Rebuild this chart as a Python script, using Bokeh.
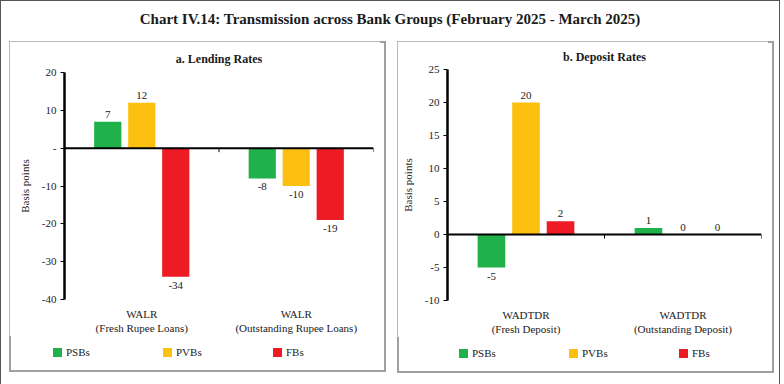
from bokeh.plotting import figure
from bokeh.models import ColumnDataSource, Range1d, FixedTicker, Span, Div
from bokeh.layouts import column, row
from bokeh.embed import file_html
from bokeh.resources import INLINE
from bokeh.core.properties import value

FONT = "Liberation Serif"
FONT_V = value(FONT)

series_names = ["PSBs", "PVBs", "FBs"]
series_colors = ["#21B14B", "#FDC010", "#ED1C24"]

lending_categories = ["WALR\n(Fresh Rupee Loans)", "WALR\n(Outstanding Rupee Loans)"]
lending_psb = [7, -8]
lending_pvb = [12, -10]
lending_fb = [-34, -19]
lending_ticks = [20, 10, 0, -10, -20, -30, -40]
lending_tick_labels = ["20", "10", "-", "-10", "-20", "-30", "-40"]

deposit_categories = ["WADTDR\n(Fresh Deposit)", "WADTDR\n(Outstanding Deposit)"]
deposit_psb = [-5, 1]
deposit_pvb = [20, 0]
deposit_fb = [2, 0]
deposit_ticks = [25, 20, 15, 10, 5, 0, -5, -10]
deposit_tick_labels = ["25", "20", "15", "10", "5", "0", "-5", "-10"]

chart_title = "Chart IV.14: Transmission across Bank Groups (February 2025 - March 2025)"
panel_titles = ["a. Lending Rates", "b. Deposit Rates"]
y_label = "Basis points"

offsets = [-0.22, 0.0, 0.22]
bar_w = 0.176
BORDER = {"outline": "2px solid #a0a0a0", "outline-offset": "-2px"}


def make_panel(title, cats, series, ticks, tick_labels, yr, fw, fh,
               left, top, title_standoff):
    n = len(cats)
    p = figure(frame_width=fw, frame_height=fh, output_backend="svg",
               toolbar_location=None,
               x_range=Range1d(0, n), y_range=Range1d(yr[0], yr[1]),
               min_border_left=left, min_border_right=7, min_border_top=top,
               min_border_bottom=30)
    p.outline_line_color = None
    p.xgrid.visible = False
    p.ygrid.visible = False
    p.title.text = title
    p.title.align = "center"
    p.title.text_font = FONT
    p.title.text_font_size = "12px"
    p.title.text_font_style = "bold"
    p.title.text_color = "#1a1a1a"
    p.title.standoff = title_standoff

    for k in range(len(series_names)):
        vals = series[k]
        xs = [i + 0.5 + offsets[k] for i in range(n)]
        src = ColumnDataSource(dict(x=xs, top=vals))
        p.vbar(x="x", top="top", bottom=0, width=bar_w, source=src,
               fill_color=series_colors[k], line_color=None)
        pos = ColumnDataSource(dict(x=[x for x, v in zip(xs, vals) if v >= 0],
                                    y=[v for v in vals if v >= 0],
                                    t=[str(v) for v in vals if v >= 0]))
        neg = ColumnDataSource(dict(x=[x for x, v in zip(xs, vals) if v < 0],
                                    y=[v for v in vals if v < 0],
                                    t=[str(v) for v in vals if v < 0]))
        p.text(x="x", y="y", text="t", source=pos, text_align="center",
               text_baseline="bottom", y_offset=-4, text_font=FONT_V,
               text_font_size="11px", text_color="#222222")
        p.text(x="x", y="y", text="t", source=neg, text_align="center",
               text_baseline="top", y_offset=5, text_font=FONT_V,
               text_font_size="11px", text_color="#222222")

    # zero line with ticks at the category boundaries
    p.add_layout(Span(location=0, dimension="width", line_color="black", line_width=2))
    px_per_unit = fh / float(yr[1] - yr[0])
    bx = list(range(n + 1))
    p.segment(x0=bx, x1=bx, y0=[0] * len(bx), y1=[-4.0 / px_per_unit] * len(bx),
              line_color="black", line_width=1)

    ya = p.yaxis[0]
    ya.ticker = FixedTicker(ticks=ticks)
    ya.major_label_overrides = {t: l for t, l in zip(ticks, tick_labels)}
    ya.axis_line_width = 2.5
    ya.axis_line_color = "black"
    ya.major_tick_out = 4
    ya.major_tick_in = 0
    ya.minor_tick_line_color = None
    ya.major_label_text_font = FONT
    ya.major_label_text_font_size = "11px"
    ya.major_label_text_color = "#222222"
    ya.major_label_standoff = 4
    ya.axis_label = y_label
    ya.axis_label_text_font = FONT
    ya.axis_label_text_font_size = "11px"
    ya.axis_label_text_font_style = "normal"
    ya.axis_label_text_color = "#222222"
    ya.axis_label_standoff = 8

    centers = [i + 0.5 for i in range(n)]
    xa = p.xaxis[0]
    xa.ticker = FixedTicker(ticks=centers)
    xa.major_label_overrides = {c: t for c, t in zip(centers, cats)}
    xa.axis_line_color = None
    xa.major_tick_line_color = None
    xa.minor_tick_line_color = None
    xa.major_label_text_font = FONT
    xa.major_label_text_font_size = "11px"
    xa.major_label_text_color = "#222222"
    xa.major_label_standoff = 2
    return p


def html_legend(pad_left):
    parts = []
    for name, color in zip(series_names, series_colors):
        parts.append('<span style="display:inline-flex;align-items:center;width:110px">'
                     '<span style="display:inline-block;width:9px;height:9px;'
                     'background:' + color + ';margin-right:4px"></span>' + name + '</span>')
    return Div(text='<div style="font-family:\'' + FONT + '\';font-size:11px;color:#222;'
                    'padding-left:' + str(pad_left) + 'px;padding-top:4px;white-space:nowrap">'
                    + "".join(parts) + '</div>', width=367, height=26)


p1 = make_panel(panel_titles[0], lending_categories,
                [lending_psb, lending_pvb, lending_fb],
                lending_ticks, lending_tick_labels, (-40, 20), 309, 227,
                55, 31, 14)
panel1 = column(p1, html_legend(39), spacing=0, styles=BORDER)

p2 = make_panel(panel_titles[1], deposit_categories,
                [deposit_psb, deposit_pvb, deposit_fb],
                deposit_ticks, deposit_tick_labels, (-10, 25), 314, 231,
                50, 27, 12)
panel2 = column(p2, html_legend(57), spacing=0, styles=BORDER)

title_div = Div(text='<div style="font-family:\'' + FONT + '\';font-size:15px;font-weight:bold;'
                     'text-align:center;width:768px;padding-top:3px;color:#1a1a1a">'
                     + chart_title + '</div>', width=768, height=30)
source_div = Div(text='<div style="font-family:\'' + FONT + '\';font-size:11px;padding-left:5px;'
                      'padding-top:4px;color:#1a1a1a"><b>Source:</b> RBI.</div>',
                 width=768, height=20)

panels = row(panel1, panel2, spacing=11, margin=(0, 0, 0, 8))
layout = column(title_div, panels, source_div, spacing=0,
                styles={"border": "1.5px solid #555555", "background": "white"})

open("out.html", "w").write(file_html(layout, INLINE))
